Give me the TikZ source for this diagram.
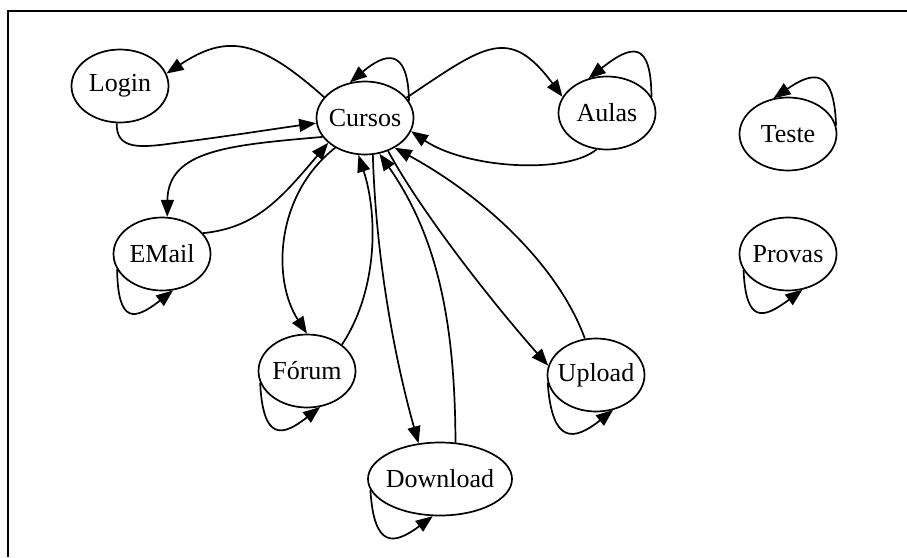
\documentclass[tikz,border=0pt]{standalone}
\usepackage{fontspec}
\setmainfont{Liberation Serif}
\usetikzlibrary{shapes.geometric,arrows.meta,calc}
\begin{document}
\begin{tikzpicture}[x=1pt,y=-1pt,
  state/.style={ellipse,draw,line width=1.7pt,minimum width=97pt,minimum height=73pt,
    inner ysep=0pt,inner xsep=-15pt,font=\fontsize{26}{30}\selectfont},
  wide/.style={minimum width=144pt},
  edge/.style={line width=1.7pt,-{Triangle[length=17pt,width=13pt]}},
  frame/.style={line width=2.4pt,line join=miter}]
\useasboundingbox (0,0) rectangle (907,557);
% outer frame (top and left sides)
\draw[frame] (907,11) -- (8,11) -- (8,557);

% states
\node[state] (login) at (120,86) {Login};
\node[state] (cursos) at (365,118) {Cursos};
\node[state] (aulas) at (607,113) {Aulas};
\node[state] (teste) at (788,134) {Teste};
\node[state] (email) at (162,254) {EMail};
\node[state] (provas) at (788,254) {Provas};
\node[state] (forum) at (307,371) {Fórum};
\node[state] (upload) at (596,375) {Upload};
\node[state,wide] (download) at (440,479) {Download};

% transitions
\draw[edge] (cursos.153) .. controls (257.5,37.7) and (226,34.5) .. (login.15);
\draw[edge] (login.265) .. controls (116,150) and (140,148) .. (175,143)
  .. controls (230,136) and (280,128) .. (cursos.186);
\draw[edge] (cursos.21) .. controls ($(cursos)+(43,-72)$) and ($(cursos)+(20,-65)$) .. (cursos.113);
\draw[edge] (cursos.204) .. controls (230,145) and (168,150) .. (email.82);
\draw[edge] (email.27) .. controls (255,228) and (280,200) .. (cursos.214);
\draw[edge] (email.199) .. controls ($(email)+(-44,71)$) and ($(email)+(-27,66)$) .. (email.287);
\draw[edge] (cursos.225) .. controls (275,195) and (272,280) .. (forum.90);
\draw[edge] (forum.37) .. controls (378,290) and (378,215) .. (cursos.260);
\draw[edge] (forum.194) .. controls ($(forum)+(-44,70)$) and ($(forum)+(-25,66)$) .. (forum.290);
\draw[edge] (cursos.282) .. controls (376,260) and (395,360) .. (download.121);
\draw[edge] (download.67) .. controls (455,330) and (440,240) .. (cursos.292);
\draw[edge] (download.189) .. controls ($(download)+(-66,70)$) and ($(download)+(-46,66)$) .. (download.259);
\draw[edge] (cursos.305) .. controls (420,210) and (490,300) .. (upload.169);
\draw[edge] (upload.107) .. controls (560,270) and (490,200) .. (cursos.315);
\draw[edge] (upload.189) .. controls ($(upload)+(-44,70)$) and ($(upload)+(-22,66)$) .. (upload.296);
\draw[edge] (aulas.254) .. controls (565,175) and (465,168) .. (cursos.344);
\draw[edge] (cursos.26) .. controls (485,45) and (509,25) .. (aulas.160);
\draw[edge] (aulas.20) .. controls ($(aulas)+(44,-74)$) and ($(aulas)+(24,-68)$) .. (aulas.118);
\draw[edge] (teste.10) .. controls ($(teste)+(46,-68)$) and ($(teste)+(24,-62)$) .. (teste.112);
\draw[edge] (provas.200) .. controls ($(provas)+(-42,70)$) and ($(provas)+(-25,65)$) .. (provas.292);
\end{tikzpicture}
\end{document}
